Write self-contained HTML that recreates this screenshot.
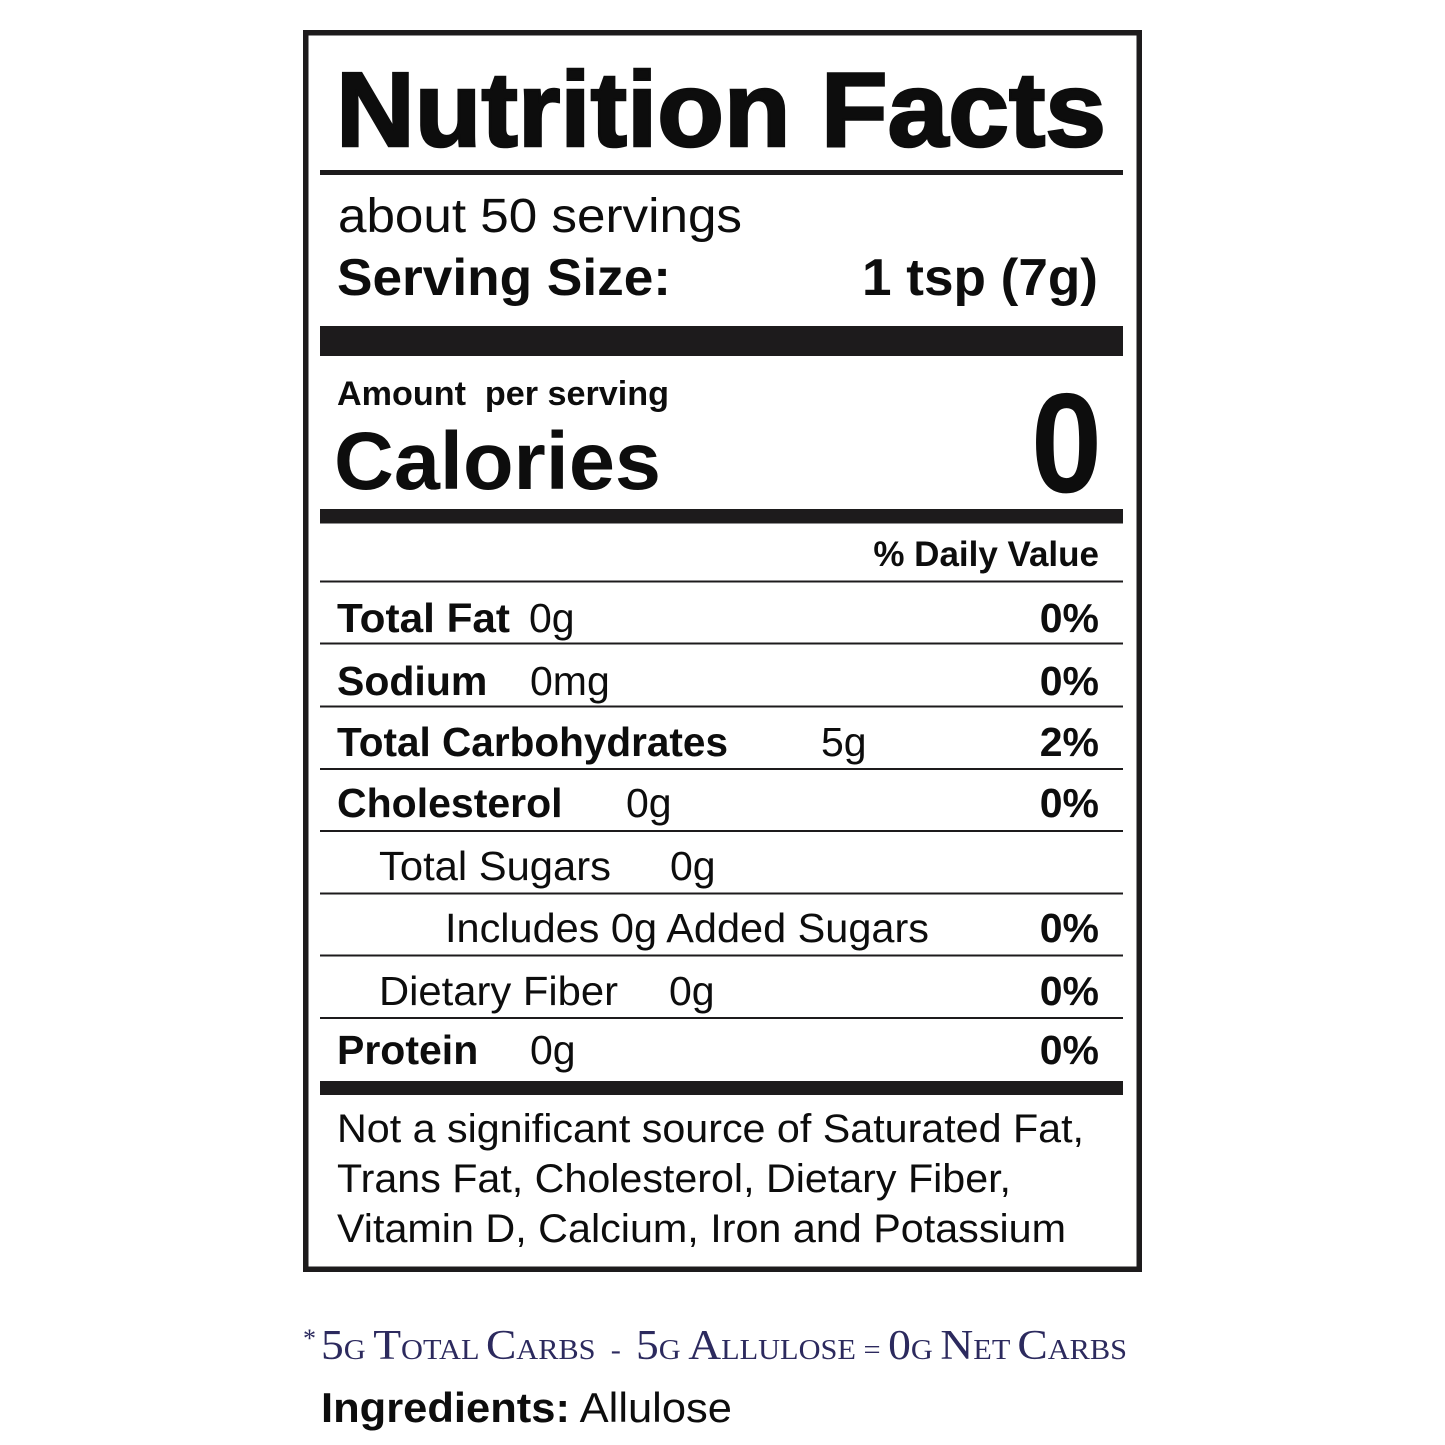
<!DOCTYPE html>
<html>
<head>
<meta charset="utf-8">
<style>
  html,body{margin:0;padding:0;background:#fff;}
  svg{display:block;}
  text{font-family:"Liberation Sans",Arial,sans-serif;fill:#0d0d0d;}
  .b{font-weight:bold;}
  .pre{white-space:pre;}
</style>
</head>
<body>
<svg width="1445" height="1445" viewBox="0 0 1445 1445" xmlns="http://www.w3.org/2000/svg">
  <rect x="0" y="0" width="1445" height="1445" fill="#fff"/>
  <!-- outer box -->
  <rect x="305.75" y="32.75" width="833.5" height="1236.5" fill="none" stroke="#1d1b1c" stroke-width="5.5"/>

  <!-- title -->
  <text class="b" x="336" y="146" font-size="106" textLength="770" lengthAdjust="spacingAndGlyphs" stroke="#0d0d0d" stroke-width="2.6">Nutrition Facts</text>
  <rect x="320" y="170" width="803" height="5" fill="#1d1b1c"/>

  <!-- servings -->
  <text x="338" y="232" font-size="48" textLength="404" lengthAdjust="spacingAndGlyphs">about 50 servings</text>
  <text class="b" x="337" y="295" font-size="52" textLength="334" lengthAdjust="spacingAndGlyphs">Serving Size:</text>
  <text class="b" x="862" y="295" font-size="52" textLength="236" lengthAdjust="spacingAndGlyphs">1 tsp (7g)</text>
  <rect x="320" y="326" width="803" height="30" fill="#1d1b1c"/>

  <!-- calories -->
  <text class="b pre" x="337" y="405" font-size="34" textLength="332" lengthAdjust="spacingAndGlyphs">Amount  per serving</text>
  <text class="b" x="334" y="489" font-size="82" textLength="327" lengthAdjust="spacingAndGlyphs">Calories</text>
  <text class="b" x="1031" y="492" font-size="142" textLength="71" lengthAdjust="spacingAndGlyphs">0</text>
  <rect x="320" y="509" width="803" height="14.5" fill="#1d1b1c"/>

  <text class="b" x="1099" y="566" font-size="35" text-anchor="end">% Daily Value</text>

  <!-- thin lines -->
  <rect x="320" y="580.5" width="803" height="2" fill="#1d1b1c"/>
  <rect x="320" y="642.5" width="803" height="2" fill="#1d1b1c"/>
  <rect x="320" y="705.5" width="803" height="2" fill="#1d1b1c"/>
  <rect x="320" y="768" width="803" height="2" fill="#1d1b1c"/>
  <rect x="320" y="830" width="803" height="2" fill="#1d1b1c"/>
  <rect x="320" y="892.5" width="803" height="2" fill="#1d1b1c"/>
  <rect x="320" y="954.5" width="803" height="2" fill="#1d1b1c"/>
  <rect x="320" y="1017" width="803" height="2" fill="#1d1b1c"/>
  <rect x="320" y="1081" width="803" height="14" fill="#1d1b1c"/>

  <!-- rows -->
  <text class="b" x="337" y="632" font-size="41" textLength="173" lengthAdjust="spacingAndGlyphs">Total Fat</text>
  <text x="529" y="632" font-size="41">0g</text>
  <text class="b" x="1099" y="632" font-size="41" text-anchor="end">0%</text>

  <text class="b" x="337" y="695" font-size="41">Sodium</text>
  <text x="530" y="695" font-size="41">0mg</text>
  <text class="b" x="1099" y="695" font-size="41" text-anchor="end">0%</text>

  <text class="b" x="337" y="756" font-size="41" textLength="391" lengthAdjust="spacingAndGlyphs">Total Carbohydrates</text>
  <text x="821" y="756" font-size="41">5g</text>
  <text class="b" x="1099" y="756" font-size="41" text-anchor="end">2%</text>

  <text class="b" x="337" y="817" font-size="41">Cholesterol</text>
  <text x="626" y="817" font-size="41">0g</text>
  <text class="b" x="1099" y="817" font-size="41" text-anchor="end">0%</text>

  <text x="379" y="880" font-size="41" textLength="232" lengthAdjust="spacingAndGlyphs">Total Sugars</text>
  <text x="670" y="880" font-size="41">0g</text>

  <text x="445" y="942" font-size="41" textLength="484" lengthAdjust="spacingAndGlyphs">Includes 0g Added Sugars</text>
  <text class="b" x="1099" y="942" font-size="41" text-anchor="end">0%</text>

  <text x="379" y="1005" font-size="41" textLength="239" lengthAdjust="spacingAndGlyphs">Dietary Fiber</text>
  <text x="669" y="1005" font-size="41">0g</text>
  <text class="b" x="1099" y="1005" font-size="41" text-anchor="end">0%</text>

  <text class="b" x="337" y="1064" font-size="41">Protein</text>
  <text x="530" y="1064" font-size="41">0g</text>
  <text class="b" x="1099" y="1064" font-size="41" text-anchor="end">0%</text>

  <!-- footnote paragraph -->
  <text x="337" y="1142" font-size="40" textLength="747" lengthAdjust="spacingAndGlyphs">Not a significant source of Saturated Fat,</text>
  <text x="337" y="1192" font-size="40" textLength="674" lengthAdjust="spacingAndGlyphs">Trans Fat, Cholesterol, Dietary Fiber,</text>
  <text x="337" y="1242" font-size="40" textLength="729" lengthAdjust="spacingAndGlyphs">Vitamin D, Calcium, Iron and Potassium</text>

  <!-- serif net carbs line -->
  <text x="303" y="1347" font-size="26" style="font-family:'Liberation Serif','Times New Roman',serif;fill:#2c2a5e;">*</text>
  <text class="pre" x="321" y="1359" textLength="806" lengthAdjust="spacingAndGlyphs" style="font-family:'Liberation Serif','Times New Roman',serif;fill:#2c2a5e;"><tspan font-size="42">5</tspan><tspan font-size="28">G </tspan><tspan font-size="42">T</tspan><tspan font-size="28">OTAL </tspan><tspan font-size="42">C</tspan><tspan font-size="28">ARBS  -  </tspan><tspan font-size="42">5</tspan><tspan font-size="28">G </tspan><tspan font-size="42">A</tspan><tspan font-size="28">LLULOSE = </tspan><tspan font-size="42">0</tspan><tspan font-size="28">G </tspan><tspan font-size="42">N</tspan><tspan font-size="28">ET </tspan><tspan font-size="42">C</tspan><tspan font-size="28">ARBS</tspan></text>

  <!-- ingredients -->
  <text x="321" y="1422" font-size="42" textLength="411" lengthAdjust="spacingAndGlyphs"><tspan font-weight="bold">Ingredients:</tspan> Allulose</text>
</svg>
</body>
</html>
